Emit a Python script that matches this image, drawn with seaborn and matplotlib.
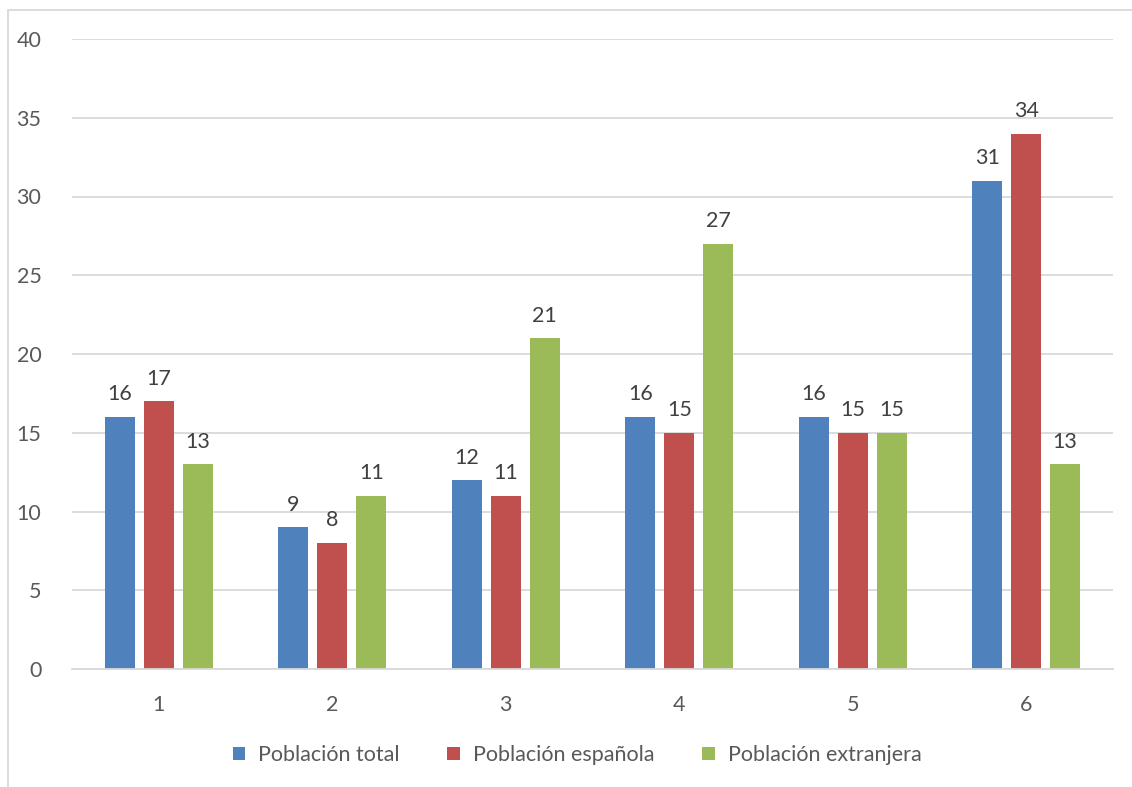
import matplotlib
matplotlib.use("Agg")
import matplotlib.pyplot as plt
import seaborn as sns
import pandas as pd
from matplotlib.patches import Rectangle

categories = ["1", "2", "3", "4", "5", "6"]
series_names = ["Población total", "Población española", "Población extranjera"]
total = [16, 9, 12, 16, 16, 31]
espanola = [17, 8, 11, 15, 15, 34]
extranjera = [13, 11, 21, 27, 15, 13]
colors = ["#4F81BD", "#C0504D", "#9BBB59"]

rows = []
for name, vals in zip(series_names, [total, espanola, extranjera]):
    for c, v in zip(categories, vals):
        rows.append({"cat": c, "serie": name, "valor": v})
df = pd.DataFrame(rows)

sns.set_theme(style="white")
plt.rcParams["font.family"] = ["Lato", "DejaVu Sans"]
text_color = "#595959"
fs = 15.5

fig = plt.figure(figsize=(11.32, 7.87), dpi=100)
ax = fig.add_axes([72/1132, 118/787, (1113-72)/1132, (669-39)/787])

sns.barplot(data=df, x="cat", y="valor", hue="serie", order=categories,
            hue_order=series_names, palette=colors, width=0.674, gap=0.23,
            saturation=1, ax=ax, edgecolor="none", errorbar=None)

for cont in ax.containers:
    ax.bar_label(cont, padding=9, fontsize=fs, color="#404040")

ax.set_ylim(0, 40)
ax.set_yticks(range(0, 41, 5))
ax.set_xlim(-0.5, 5.5)
ax.yaxis.grid(True, color="#D9D9D9", linewidth=1.3)
ax.set_axisbelow(True)
for s in ["top", "right", "left"]:
    ax.spines[s].set_visible(False)
ax.spines["bottom"].set_color("#D9D9D9")
ax.spines["bottom"].set_linewidth(1.3)
ax.tick_params(axis="y", length=0, pad=22, labelsize=fs, labelcolor=text_color)
ax.tick_params(axis="x", length=0, pad=19, labelsize=fs, labelcolor=text_color)
ax.set_xlabel("")
ax.set_ylabel("")

handles, labels = ax.get_legend_handles_labels()
ax.legend(handles, labels, loc="center", bbox_to_anchor=(577/1132, 1 - 755/787),
          bbox_transform=fig.transFigure, ncol=3, frameon=False, fontsize=fs,
          handlelength=0.6, handleheight=0.6, handletextpad=0.6, columnspacing=2.2,
          labelcolor=text_color)

frame = Rectangle((8/1132, -0.1), 1.2, (787-10)/787 + 0.1, transform=fig.transFigure,
                  fill=False, edgecolor="#D9D9D9", linewidth=1.3, clip_on=False)
fig.patches.append(frame)

fig.savefig("out.png", dpi=100)
